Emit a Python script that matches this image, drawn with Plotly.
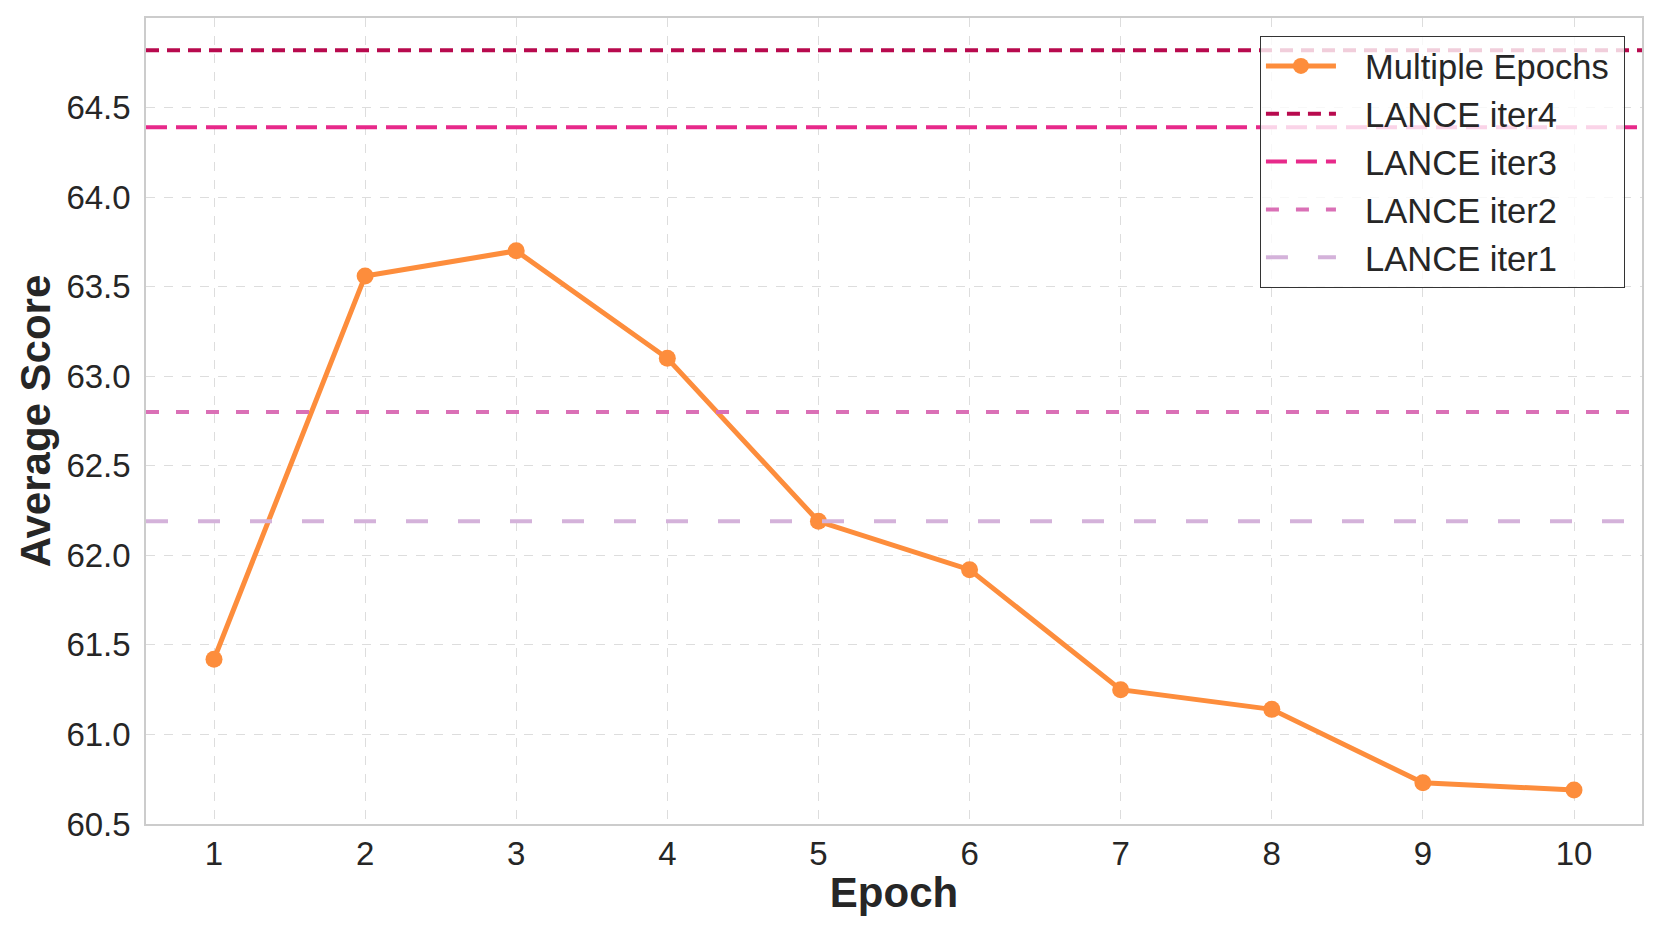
import plotly.graph_objects as go

epochs = [1, 2, 3, 4, 5, 6, 7, 8, 9, 10]
avg_score = [61.42, 63.56, 63.70, 63.10, 62.19, 61.92, 61.25, 61.14, 60.73, 60.69]

lance_names = ["LANCE iter4", "LANCE iter3", "LANCE iter2", "LANCE iter1"]
lance_values = [64.82, 64.39, 62.80, 62.19]
lance_colors = ["#B80A4E", "#E7298A", "#DA70B6", "#D4B2DA"]
lance_dashes = ["13px,8px", "21px,9px", "13px,17px", "22px,30px"]

y_ticks = [60.5, 61.0, 61.5, 62.0, 62.5, 63.0, 63.5, 64.0, 64.5]

FONT = "Liberation Sans, Arial, sans-serif"
GAP = "\u2002\u2009"      # visual gap between legend symbol and label
TAIL = "\u2009\u200a"     # right padding inside the legend box

fig = go.Figure()
fig.add_trace(go.Scatter(
    x=epochs, y=avg_score, mode="lines+markers", name=GAP + "Multiple Epochs" + TAIL,
    line=dict(color="#FD8D3C", width=5),
    marker=dict(color="#FD8D3C", size=17),
))

for name, val, col, dash in zip(lance_names, lance_values, lance_colors, lance_dashes):
    fig.add_hline(y=val, line=dict(color=col, width=4, dash=dash),
                  showlegend=True, name=GAP + name)

fig.update_layout(
    width=1661, height=934,
    margin=dict(l=146, r=19, t=18, b=110, autoexpand=False),
    paper_bgcolor="white", plot_bgcolor="white",
    font=dict(family=FONT, color="#262626", size=34),
    legend=dict(
        x=0.9886, y=0.9777, xanchor="right", yanchor="top",
        bgcolor="rgba(255,255,255,0.8)", bordercolor="#333333", borderwidth=1,
        font=dict(size=34.5, color="#262626"), itemwidth=70,
        tracegroupgap=0,
    ),
)

fig.update_xaxes(
    range=[0.55, 10.45], tickmode="array", tickvals=epochs,
    ticktext=[str(e) for e in epochs],
    showgrid=True, gridcolor="#DDDDDD", gridwidth=1, griddash="dash",
    showline=True, linecolor="#CCCCCC", linewidth=1.5, mirror=True,
    zeroline=False, ticks="", ticklabelstandoff=0,
    tickfont=dict(size=33),
    title=dict(text="<b>Epoch</b>", font=dict(size=42, color="#262626"), standoff=6),
    automargin=False,
)
fig.update_yaxes(
    range=[60.5, 65.0], tickmode="array", tickvals=y_ticks,
    ticktext=[f"{v:.1f}" for v in y_ticks],
    showgrid=True, gridcolor="#DDDDDD", gridwidth=1, griddash="dash",
    showline=True, linecolor="#CCCCCC", linewidth=1.5, mirror=True,
    zeroline=False, ticks="", ticklabelstandoff=7,
    tickfont=dict(size=33),
    title=dict(text="<b>Average Score</b>", font=dict(size=42, color="#262626"), standoff=3),
    automargin=False,
)

fig.write_html(
    "out.html",
    config={"displayModeBar": False},
    post_script="document.body.style.margin='0';document.body.style.overflow='hidden';",
)
